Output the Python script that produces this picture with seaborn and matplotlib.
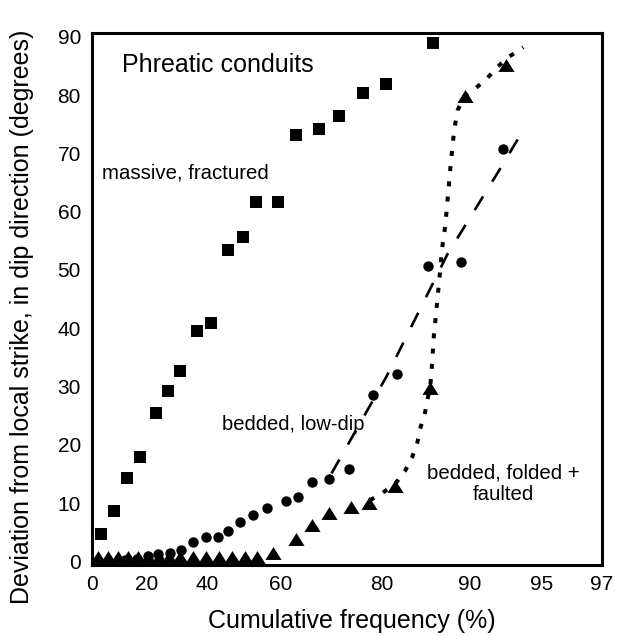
import numpy as np
import matplotlib
matplotlib.use("Agg")
import matplotlib.pyplot as plt
import seaborn as sns

# ---------------- data ----------------
# x-axis: cumulative frequency (%) on a hand-drawn probability-type axis
x_tick_values = [0, 20, 40, 60, 80, 90, 95, 97]
x_tick_labels = ["0", "20", "40", "60", "80", "90", "95", "97"]
x_axis_stretch = [0, 55, 115, 189, 290, 378, 450, 510]   # relative position of each tick value
y_ticks = [0, 10, 20, 30, 40, 50, 60, 70, 80, 90]

# massive, fractured (squares)
massive_x = [3.45, 7.9, 12.8, 17.4, 22.9, 26.9, 31.1, 36.7, 41.1, 45.8,
             49.8, 53.3, 59.1, 62.9, 67.5, 71.5, 76.2, 80.5, 85.8]
massive_y = [4.7, 8.7, 14.4, 18.0, 25.4, 29.2, 32.7, 39.6, 40.9, 53.4,
             55.6, 61.7, 61.7, 73.1, 74.1, 76.4, 80.4, 81.9, 88.9]

# bedded, low-dip (circles)
lowdip_x = [12.1, 16.4, 20.3, 23.7, 27.5, 31.3, 35.4, 39.6, 42.9, 45.7, 48.9, 52.3,
            56.3, 60.9, 63.4, 66.1, 69.5, 73.4, 78.2, 81.7, 85.2, 89.0, 92.3]
lowdip_y = [0.3, 0.4, 1.0, 1.3, 1.4, 2.0, 3.3, 4.2, 4.2, 5.3, 6.7, 8.0,
            9.2, 10.4, 11.0, 13.7, 14.1, 15.8, 28.5, 32.1, 50.6, 51.3, 70.8]

# bedded, folded + faulted (triangles)
folded_x = [2.2, 5.8, 9.5, 13.1, 16.7, 20.3, 24.0, 27.3, 31.0, 35.3, 39.7, 43.2,
            46.8, 50.3, 53.5, 57.9, 63.0, 66.2, 69.5, 73.9, 77.4, 81.5, 85.5, 89.4, 92.5]
folded_y = [0.7, 0.7, 0.7, 0.7, 0.7, 0.7, 0.7, 0.7, 0.7, 0.7, 0.7, 0.7,
            0.7, 0.7, 0.7, 1.4, 3.9, 6.3, 8.4, 9.3, 10.0, 13.0, 29.7, 79.8, 85.2]

# hand-drawn trend lines
lowdip_fit_x = [70.0, 80.5, 87.4, 92.2, 93.7]
lowdip_fit_y = [15.1, 31.7, 52.6, 67.8, 74.0]

folded_fit_x = [77.6, 79.8, 81.5, 82.6, 83.4, 84.0, 84.4, 84.9, 85.2, 85.5, 85.7, 85.9,
                86.1, 86.4, 86.6, 86.8, 87.2, 87.5, 87.8, 88.2, 88.6, 89.3, 90.4,
                91.2, 91.9, 92.6, 93.7]
folded_fit_y = [10.5, 11.6, 13.3, 15.5, 17.8, 20.3, 23.1, 25.6, 28.0, 30.3, 34.2, 38.9,
                41.8, 46.6, 49.7, 53.4, 57.7, 62.9, 68.0, 74.0, 77.4, 79.7, 81.2,
                82.9, 84.8, 86.4, 88.2]

# ---------------- style ----------------
sns.set_style("white")
plt.rcParams["font.family"] = ["Liberation Sans", "DejaVu Sans"]
plt.rcParams["lines.scale_dashes"] = False
for key in ["text.color", "axes.labelcolor", "xtick.color", "ytick.color",
            "axes.edgecolor"]:
    plt.rcParams[key] = "black"

fig = plt.figure(figsize=(6.18, 6.36), dpi=100)
ax = fig.add_axes([92 / 618, (636 - 565) / 636, 510 / 618, 532 / 636])

tri = [(0, 0.8), (-1, -0.8), (1, -0.8)]

sns.scatterplot(x=massive_x, y=massive_y, marker="s", s=78, color="black",
                linewidth=0, ax=ax, zorder=3)
sns.scatterplot(x=lowdip_x, y=lowdip_y, marker="o", s=56, color="black",
                linewidth=0, ax=ax, zorder=3)
sns.scatterplot(x=folded_x, y=folded_y, marker=tri, s=135, color="black",
                linewidth=0, ax=ax, zorder=3)

sns.lineplot(x=lowdip_fit_x, y=lowdip_fit_y, sort=False, color="black",
             linewidth=1.9, linestyle=(0, (11.5, 12.5)), ax=ax, zorder=2)
sns.lineplot(x=folded_fit_x, y=folded_fit_y, sort=False, color="black",
             linewidth=2.9, linestyle=(0, (3.6, 7.4)), ax=ax, zorder=2)
for ln in ax.get_lines():
    ln.set_dash_capstyle("butt")

# custom x scale (piecewise, as on the original axis)
def fwd(v):
    return np.interp(v, x_tick_values, x_axis_stretch)

def inv(p):
    return np.interp(p, x_axis_stretch, x_tick_values)

ax.set_xscale("function", functions=(fwd, inv))
ax.set_xlim(0, 97)
ax.set_ylim(-0.6, 90.65)
ax.set_xticks(x_tick_values)
ax.set_xticklabels(x_tick_labels)
ax.set_yticks(y_ticks)
ax.minorticks_off()

for sp in ax.spines.values():
    sp.set_linewidth(2.2)
    sp.set_color("black")
    sp.set_visible(True)

ax.tick_params(axis="both", direction="in", length=8.5, width=2.2, colors="black",
               labelsize=15, pad=7)
ax.tick_params(axis="y", pad=8)

ax.set_xlabel("Cumulative frequency (%)", fontsize=18)
ax.set_ylabel("Deviation from local strike, in dip direction (degrees)", fontsize=18)
ax.xaxis.set_label_coords((352 - 92) / 510, (565 - 628) / 532)
ax.yaxis.set_label_coords((22 - 92) / 510, (565 - 317) / 532)
ax.xaxis.label.set_va("baseline")
ax.yaxis.label.set_va("center")

ax.text((121.7 - 92) / 510, (565 - 65) / 532, "Phreatic conduits",
        transform=ax.transAxes, fontsize=18, ha="left", va="center")
ax.text((101.7 - 92) / 510, (565 - 173) / 532, "massive, fractured",
        transform=ax.transAxes, fontsize=14.7, ha="left", va="center")
ax.text((221.7 - 92) / 510, (565 - 424) / 532, "bedded, low-dip",
        transform=ax.transAxes, fontsize=14.5, ha="left", va="center")
ax.text((503.3 - 92) / 510, (565 - 484) / 532, "bedded, folded +\nfaulted",
        transform=ax.transAxes, fontsize=14.7, ha="center", va="center",
        multialignment="center", linespacing=1.15)

fig.savefig("out.png", dpi=100, facecolor="white")
